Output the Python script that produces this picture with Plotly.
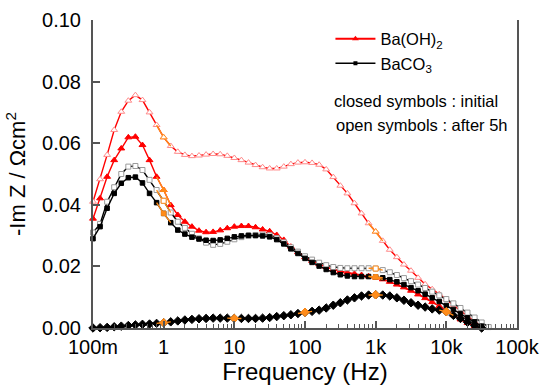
import plotly.graph_objects as go

FREQ_HZ = [0.1, 0.1259, 0.1585, 0.1995, 0.2512, 0.3162, 0.3981, 0.5012, 0.6310, 0.7943,
           1, 1.259, 1.585, 1.995, 2.512, 3.162, 3.981, 5.012, 6.310, 7.943,
           10, 12.59, 15.85, 19.95, 25.12, 31.62, 39.81, 50.12, 63.10, 79.43,
           100, 125.9, 158.5, 199.5, 251.2, 316.2, 398.1, 501.2, 631.0, 794.3,
           1000, 1259, 1585, 1995, 2512, 3162, 3981, 5012, 6310, 7943,
           10000, 12590, 15850, 19950, 25120, 31620, 39810]

BAOH2_OPEN = [0.0410, 0.0483, 0.0562, 0.0643, 0.0702, 0.0738, 0.0756, 0.0740, 0.0700, 0.0659,
              0.0619, 0.0591, 0.0572, 0.0562, 0.0558, 0.0560, 0.0563, 0.0565, 0.0564, 0.0559,
              0.0552, 0.0545, 0.0537, 0.0529, 0.0522, 0.0518, 0.0518, 0.0524, 0.0532, 0.0537,
              0.0538, 0.0536, 0.0530, 0.0515, 0.0490, 0.0462, 0.0437, 0.0405, 0.0372, 0.0340,
              0.0313, 0.0283, 0.0254, 0.0230, 0.0206, 0.0186, 0.0163, 0.0142, 0.0126, 0.0110,
              0.0093, 0.0074, 0.0056, 0.0038, 0.0020, 0.0004]

BAOH2_CLOSED = [0.0355, 0.0421, 0.0491, 0.0545, 0.0583, 0.0619, 0.0621, 0.0594, 0.0545, 0.0491,
                0.0448, 0.0399, 0.0367, 0.0345, 0.0329, 0.0316, 0.0311, 0.0312, 0.0317, 0.0324,
                0.0329, 0.0331, 0.0331, 0.0327, 0.0320, 0.0314, 0.0302, 0.0286, 0.0264, 0.0246,
                0.0230, 0.0218, 0.0207, 0.0198, 0.0191, 0.0185, 0.0180, 0.0176, 0.0172, 0.0168,
                0.0164, 0.0158, 0.0150, 0.0141, 0.0132, 0.0121, 0.0109, 0.0097, 0.0084, 0.0071,
                0.0057, 0.0042, 0.0028, 0.0016, 0.0005]

BACO3_OPEN = [0.0310, 0.0338, 0.0410, 0.0457, 0.0500, 0.0524, 0.0526, 0.0513, 0.0481, 0.0448,
              0.0413, 0.0375, 0.0345, 0.0325, 0.0306, 0.0291, 0.0277, 0.0270, 0.0273, 0.0280,
              0.0288, 0.0295, 0.0299, 0.0302, 0.0303, 0.0301, 0.0292, 0.0278, 0.0262, 0.0248,
              0.0233, 0.0222, 0.0212, 0.0204, 0.0198, 0.0195, 0.0194, 0.0194, 0.0194, 0.0194,
              0.0193, 0.0188, 0.0181, 0.0172, 0.0162, 0.0152, 0.0141, 0.0130, 0.0118, 0.0106,
              0.0094, 0.0080, 0.0065, 0.0050, 0.0034, 0.0018, 0.0003]

BACO3_CLOSED = [0.0290, 0.0329, 0.0389, 0.0437, 0.0470, 0.0488, 0.0490, 0.0471, 0.0437, 0.0407,
                0.0372, 0.0342, 0.0318, 0.0305, 0.0295, 0.0289, 0.0285, 0.0284, 0.0286, 0.0291,
                0.0296, 0.0299, 0.0301, 0.0300, 0.0299, 0.0296, 0.0287, 0.0273, 0.0257, 0.0242,
                0.0226, 0.0213, 0.0201, 0.0190, 0.0180, 0.0173, 0.0169, 0.0167, 0.0167, 0.0167,
                0.0166, 0.0163, 0.0157, 0.0150, 0.0141, 0.0131, 0.0121, 0.0110, 0.0098, 0.0086,
                0.0073, 0.0060, 0.0046, 0.0033, 0.0020, 0.0006]

LOW_CURVE = [0.0000, 0.0001, 0.0002, 0.0004, 0.0006, 0.0008, 0.0010, 0.0012, 0.0013, 0.0015,
             0.0017, 0.0020, 0.0023, 0.0026, 0.0028, 0.0030, 0.0031, 0.0032, 0.0032, 0.0032,
             0.0031, 0.0031, 0.0031, 0.0031, 0.0032, 0.0034, 0.0037, 0.0040, 0.0043, 0.0047,
             0.0051, 0.0054, 0.0058, 0.0065, 0.0074, 0.0082, 0.0091, 0.0098, 0.0104, 0.0107,
             0.0108, 0.0107, 0.0104, 0.0098, 0.0090, 0.0082, 0.0074, 0.0068, 0.0062, 0.0058,
             0.0053, 0.0041, 0.0031, 0.0019, 0.0008, 0.0000]

TICK_VALS = [0.1, 1, 10, 100, 1000, 10000, 100000]
TICK_TEXT = ["100m", "1", "10", "100", "1k", "10k", "100k"]

ORANGE = "#ff8c1a"
FONT = "Liberation Sans, Arial, sans-serif"
AXIS_COLOR = "#555555"

series = [
    # values, line color, symbol, marker fill, marker edge, size, highlight indices
    (BAOH2_OPEN, "#ff0000", "triangle-up", "white", "#ff8a8a", 6, [10, 40]),
    (BAOH2_CLOSED, "#ff0000", "triangle-up", "#ff0000", "#ff0000", 6, [10, 40]),
    (BACO3_OPEN, "#000000", "square", "white", "#9a9a9a", 5, [10, 40]),
    (BACO3_CLOSED, "#000000", "square", "#000000", "#000000", 4.5, [10, 40]),
    (LOW_CURVE, "#000000", "diamond", "#000000", "#000000", 6.5, [10, 20, 30, 40, 50]),
]

fig = go.Figure()

for vals, lc, sym, fill, edge, size, hl in series:
    x = FREQ_HZ[:len(vals)]
    fig.add_trace(go.Scatter(
        x=x, y=vals, mode="lines+markers", showlegend=False, cliponaxis=False,
        line=dict(color=lc, width=1.4),
        marker=dict(symbol=sym, size=size, color=fill, line=dict(color=edge, width=1)),
    ))

for vals, lc, sym, fill, edge, size, hl in series:
    x = FREQ_HZ[:len(vals)]
    for i in hl:
        fig.add_trace(go.Scatter(
            x=x[i - 1:i + 2], y=vals[i - 1:i + 2], mode="lines", showlegend=False,
            cliponaxis=False, line=dict(color=ORANGE, width=1.4), hoverinfo="skip",
        ))
        ofill = "white" if fill == "white" else ORANGE
        fig.add_trace(go.Scatter(
            x=[x[i]], y=[vals[i]], mode="markers", showlegend=False, cliponaxis=False,
            marker=dict(symbol=sym, size=size, color=ofill, line=dict(color=ORANGE, width=1)),
        ))

# legend entries
fig.add_trace(go.Scatter(
    x=[None], y=[None], mode="lines+markers", name="Ba(OH)<sub>2</sub>",
    line=dict(color="#ff0000", width=2.2),
    marker=dict(symbol="triangle-up", size=6, color="#ff0000"),
))
fig.add_trace(go.Scatter(
    x=[None], y=[None], mode="lines+markers", name="BaCO<sub>3</sub>",
    line=dict(color="#000000", width=1.5),
    marker=dict(symbol="square", size=4, color="#000000"),
))

fig.add_annotation(x=0.762, y=0.738, xref="paper", yref="paper",
                   xanchor="center", yanchor="middle",
                   text="closed symbols : initial", showarrow=False,
                   font=dict(family=FONT, size=16.5, color="#000000"))
fig.add_annotation(x=0.776, y=0.660, xref="paper", yref="paper",
                   xanchor="center", yanchor="middle",
                   text="open symbols : after 5h", showarrow=False,
                   font=dict(family=FONT, size=16.5, color="#000000"))

fig.update_layout(
    width=548, height=389,
    margin=dict(l=93, r=31, t=20, b=61, autoexpand=False),
    paper_bgcolor="white", plot_bgcolor="white",
    font=dict(family=FONT, color="#000000"),
    legend=dict(x=0.56, y=0.995, xanchor="left", yanchor="top",
                bgcolor="rgba(0,0,0,0)", font=dict(family=FONT, size=16.5),
                tracegroupgap=0, itemwidth=40),
    xaxis=dict(
        type="log", range=[-1, 5], automargin=False,
        tickvals=TICK_VALS, ticktext=TICK_TEXT,
        ticks="inside", ticklen=7, tickwidth=1.5, tickcolor=AXIS_COLOR,
        minor=dict(ticks="inside", ticklen=4, tickwidth=1, tickcolor=AXIS_COLOR,
                   dtick="D1", showgrid=False),
        showline=True, linecolor=AXIS_COLOR, linewidth=2, mirror=False,
        showgrid=False, zeroline=False,
        tickfont=dict(family=FONT, size=20),
        ticklabelstandoff=0,
        title=dict(text="Frequency (Hz)", font=dict(family=FONT, size=24), standoff=4),
    ),
    yaxis=dict(
        range=[0, 0.10], dtick=0.02, tick0=0, tickformat=".2f", automargin=False,
        ticks="inside", ticklen=7, tickwidth=1.5, tickcolor=AXIS_COLOR,
        showline=True, linecolor=AXIS_COLOR, linewidth=2, mirror=True,
        showgrid=False, zeroline=False,
        tickfont=dict(family=FONT, size=20),
        ticklabelstandoff=6,
        title=dict(text="-Im Z / Ωcm<sup>2</sup>", font=dict(family=FONT, size=22), standoff=10),
    ),
)

fig.write_html("out.html")
